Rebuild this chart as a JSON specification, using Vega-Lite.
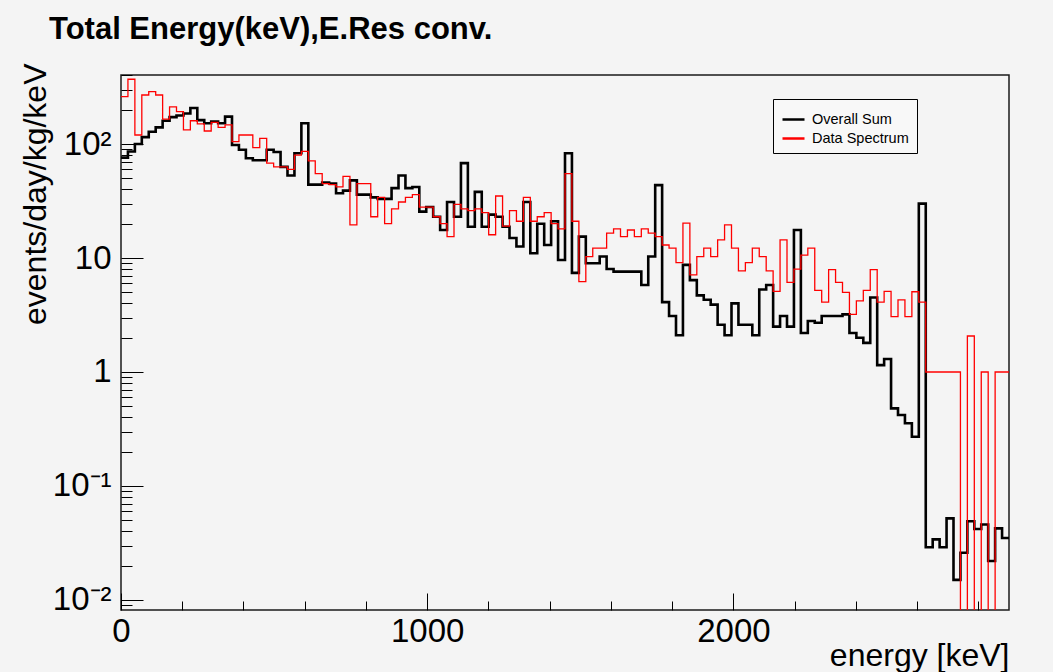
{
  "$schema": "https://vega.github.io/schema/vega-lite/v6.json",
  "width": 888,
  "height": 535,
  "autosize": {"type": "none"},
  "padding": {"left": 121, "top": 75, "right": 44, "bottom": 62},
  "background": "#f4f4f4",
  "config": {
    "font": "Liberation Sans",
    "view": {"stroke": "#1a1a1a", "strokeWidth": 1.5, "fill": "#f4f4f4"}
  },
  "title": {
    "text": "Total Energy(keV),E.Res conv.",
    "anchor": "start",
    "frame": "group",
    "dx": -72,
    "offset": -7,
    "baseline": "alphabetic",
    "fontSize": 31,
    "fontWeight": "bold",
    "font": "Liberation Sans",
    "color": "#000000"
  },
  "data": {
    "values": [
      {"e": 0, "s": 76, "d": 260},
      {"e": 22.66, "s": 86, "d": 370},
      {"e": 45.31, "s": 100, "d": 120},
      {"e": 67.97, "s": 115, "d": 269},
      {"e": 90.63, "s": 128, "d": 288},
      {"e": 113.28, "s": 140, "d": 269},
      {"e": 135.94, "s": 160, "d": 165},
      {"e": 158.59, "s": 172, "d": 212},
      {"e": 181.25, "s": 178, "d": 192},
      {"e": 203.91, "s": 185, "d": 133},
      {"e": 226.56, "s": 207, "d": 160},
      {"e": 249.22, "s": 162, "d": 150},
      {"e": 271.88, "s": 152, "d": 130},
      {"e": 294.53, "s": 157, "d": 155},
      {"e": 317.19, "s": 152, "d": 140},
      {"e": 339.84, "s": 174, "d": 147},
      {"e": 362.5, "s": 98, "d": 105},
      {"e": 385.16, "s": 89, "d": 120},
      {"e": 407.81, "s": 75, "d": 120},
      {"e": 430.47, "s": 72, "d": 93},
      {"e": 453.13, "s": 72, "d": 112},
      {"e": 475.78, "s": 89, "d": 68},
      {"e": 498.44, "s": 85, "d": 63},
      {"e": 521.09, "s": 63, "d": 63},
      {"e": 543.75, "s": 53, "d": 60},
      {"e": 566.41, "s": 83, "d": 80},
      {"e": 589.06, "s": 152, "d": 86},
      {"e": 611.72, "s": 44, "d": 71},
      {"e": 634.38, "s": 44, "d": 55},
      {"e": 657.03, "s": 46, "d": 45},
      {"e": 679.69, "s": 45, "d": 44},
      {"e": 702.34, "s": 37, "d": 42},
      {"e": 725, "s": 39, "d": 52},
      {"e": 747.66, "s": 48, "d": 19.5},
      {"e": 770.31, "s": 36, "d": 45},
      {"e": 792.97, "s": 36, "d": 45},
      {"e": 815.63, "s": 34, "d": 23},
      {"e": 838.28, "s": 33, "d": 34},
      {"e": 860.94, "s": 33, "d": 20},
      {"e": 883.59, "s": 41, "d": 27},
      {"e": 906.25, "s": 53, "d": 31},
      {"e": 928.91, "s": 41, "d": 34},
      {"e": 951.56, "s": 42, "d": 36},
      {"e": 974.22, "s": 25.5, "d": 28},
      {"e": 996.88, "s": 28, "d": 28},
      {"e": 1019.53, "s": 23, "d": 23},
      {"e": 1042.19, "s": 17.6, "d": 20},
      {"e": 1064.84, "s": 31, "d": 15.4},
      {"e": 1087.5, "s": 23, "d": 29.6},
      {"e": 1110.16, "s": 68, "d": 27},
      {"e": 1132.81, "s": 18.8, "d": 26},
      {"e": 1155.47, "s": 38, "d": 27},
      {"e": 1178.13, "s": 18.8, "d": 25},
      {"e": 1200.78, "s": 24, "d": 16},
      {"e": 1223.44, "s": 23, "d": 35},
      {"e": 1246.09, "s": 18.8, "d": 19},
      {"e": 1268.75, "s": 15, "d": 26},
      {"e": 1291.41, "s": 12.6, "d": 21},
      {"e": 1314.06, "s": 31, "d": 34},
      {"e": 1336.72, "s": 11, "d": 21},
      {"e": 1359.38, "s": 20, "d": 23},
      {"e": 1382.03, "s": 13, "d": 25},
      {"e": 1404.69, "s": 21, "d": 20},
      {"e": 1427.34, "s": 9.6, "d": 18},
      {"e": 1450, "s": 83, "d": 55},
      {"e": 1472.66, "s": 7.4, "d": 21},
      {"e": 1495.31, "s": 15.4, "d": 6.2},
      {"e": 1517.97, "s": 9, "d": 10.3},
      {"e": 1540.63, "s": 9, "d": 12.2},
      {"e": 1563.28, "s": 10.3, "d": 12.2},
      {"e": 1585.94, "s": 8, "d": 16.5},
      {"e": 1608.59, "s": 7.6, "d": 18},
      {"e": 1631.25, "s": 7.6, "d": 15.4},
      {"e": 1653.91, "s": 7.6, "d": 17.6},
      {"e": 1676.56, "s": 7.6, "d": 15.4},
      {"e": 1699.22, "s": 5.8, "d": 18},
      {"e": 1721.88, "s": 10.3, "d": 16.5},
      {"e": 1744.53, "s": 43.6, "d": 15.4},
      {"e": 1767.19, "s": 4.1, "d": 13},
      {"e": 1789.84, "s": 3.1, "d": 12.2},
      {"e": 1812.5, "s": 2.1, "d": 9.1},
      {"e": 1835.16, "s": 8.7, "d": 20.2},
      {"e": 1857.81, "s": 6.4, "d": 7.1},
      {"e": 1880.47, "s": 4.7, "d": 10.3},
      {"e": 1903.13, "s": 4.3, "d": 12.2},
      {"e": 1925.78, "s": 3.9, "d": 10.3},
      {"e": 1948.44, "s": 2.6, "d": 14.4},
      {"e": 1971.09, "s": 2.1, "d": 19.5},
      {"e": 1993.75, "s": 4.0, "d": 12.2},
      {"e": 2016.41, "s": 2.6, "d": 7.7},
      {"e": 2039.06, "s": 2.6, "d": 9.1},
      {"e": 2061.72, "s": 2.1, "d": 12.2},
      {"e": 2084.38, "s": 5.3, "d": 10.3},
      {"e": 2107.03, "s": 5.8, "d": 7.7},
      {"e": 2129.69, "s": 2.5, "d": 5.1},
      {"e": 2152.34, "s": 3.1, "d": 14.4},
      {"e": 2175, "s": 2.5, "d": 6.1},
      {"e": 2197.66, "s": 17.6, "d": 8.0},
      {"e": 2220.31, "s": 2.2, "d": 10.6},
      {"e": 2242.97, "s": 2.8, "d": 12.2},
      {"e": 2265.63, "s": 2.7, "d": 5.2},
      {"e": 2288.28, "s": 3.1, "d": 4.1},
      {"e": 2310.94, "s": 3.1, "d": 7.9},
      {"e": 2333.59, "s": 3.1, "d": 6.1},
      {"e": 2356.25, "s": 3.2, "d": 5.0},
      {"e": 2378.91, "s": 2.2, "d": 3.2},
      {"e": 2401.56, "s": 2.0, "d": 4.2},
      {"e": 2424.22, "s": 1.8, "d": 5.2},
      {"e": 2446.88, "s": 4.5, "d": 7.9},
      {"e": 2469.53, "s": 1.15, "d": 4.1},
      {"e": 2492.19, "s": 1.3, "d": 5.1},
      {"e": 2514.84, "s": 0.48, "d": 3.06},
      {"e": 2537.5, "s": 0.42, "d": 4.3},
      {"e": 2560.16, "s": 0.355, "d": 3.06},
      {"e": 2582.81, "s": 0.27, "d": 5.06},
      {"e": 2605.47, "s": 30, "d": 4.1},
      {"e": 2628.13, "s": 0.029, "d": 1},
      {"e": 2650.78, "s": 0.034, "d": 1},
      {"e": 2673.44, "s": 0.029, "d": 1},
      {"e": 2696.09, "s": 0.052, "d": 1},
      {"e": 2718.75, "s": 0.015, "d": 1},
      {"e": 2741.41, "s": 0.026, "d": 0.0001},
      {"e": 2764.06, "s": 0.049, "d": 2.07},
      {"e": 2786.72, "s": 0.042, "d": 0.0001},
      {"e": 2809.38, "s": 0.046, "d": 1},
      {"e": 2832.03, "s": 0.022, "d": 0.0001},
      {"e": 2854.69, "s": 0.0425, "d": 1},
      {"e": 2877.34, "s": 0.035, "d": 1},
      {"e": 2900, "s": 0.035, "d": 1}
    ]
  },
  "resolve": {"axis": {"x": "independent", "y": "independent"}},
  "layer": [
    {
      "mark": {"type": "line", "interpolate": "step-after", "strokeWidth": 2.6, "clip": true},
      "encoding": {
        "x": {
          "field": "e", "type": "quantitative",
          "scale": {"domain": [0, 2900], "nice": false, "zero": false},
          "axis": {
            "orient": "bottom", "values": [0, 1000, 2000], "format": "d",
            "tickSize": -17, "tickColor": "#000000", "tickWidth": 1,
            "labelFontSize": 33, "labelPadding": 22, "labelFlush": false, "labelColor": "#000000",
            "domain": false, "grid": false,
            "title": "energy [keV]", "titleFontSize": 32, "titleFontWeight": "normal", "titleColor": "#000000",
            "titleAnchor": "end", "titleAlign": "right", "titleBaseline": "alphabetic",
            "titleX": 888, "titleY": 55
          }
        },
        "y": {
          "field": "s", "type": "quantitative",
          "scale": {"type": "log", "domain": [0.00817, 403], "nice": false},
          "axis": {
            "orient": "left", "values": [0.01, 0.1, 1, 10, 100],
            "labelExpr": "datum.value >= 99 ? '10²' : datum.value >= 9 ? '10' : datum.value >= 0.9 ? '1' : datum.value >= 0.09 ? '10⁻¹' : '10⁻²'",
            "tickSize": -22, "tickColor": "#000000", "tickWidth": 1,
            "labelFontSize": 33, "labelPadding": 32, "labelColor": "#000000",
            "domain": false, "grid": false,
            "title": "events/day/kg/keV", "titleFontSize": 32, "titleFontWeight": "normal", "titleColor": "#000000",
            "titleAngle": -90, "titleAlign": "right", "titleBaseline": "middle",
            "titleX": -86, "titleY": -12
          }
        },
        "color": {
          "datum": "Overall Sum", "type": "nominal",
          "scale": {"domain": ["Overall Sum", "Data Spectrum"], "range": ["#000000", "#ff0000"]},
          "legend": {
            "orient": "none", "legendX": 652, "legendY": 24, "title": null,
            "strokeColor": "#000000", "fillColor": "#f8f8f8", "padding": 8,
            "symbolType": "stroke", "symbolSize": 484, "symbolStrokeWidth": 2.5,
            "labelFontSize": 14.5, "labelColor": "#000000", "labelFont": "Liberation Sans",
            "rowPadding": -6, "labelOffset": 6
          }
        }
      }
    },
    {
      "mark": {"type": "line", "interpolate": "step-after", "strokeWidth": 1.3, "clip": true},
      "encoding": {
        "x": {
          "field": "e", "type": "quantitative",
          "axis": {
            "orient": "bottom",
            "values": [200, 400, 600, 800, 1200, 1400, 1600, 1800, 2200, 2400, 2600, 2800],
            "tickSize": -9, "tickColor": "#000000", "tickWidth": 1,
            "labels": false, "domain": false, "grid": false, "title": null
          }
        },
        "y": {
          "field": "d", "type": "quantitative",
          "axis": {
            "orient": "left",
            "values": [0.009, 0.02, 0.03, 0.04, 0.05, 0.06, 0.07, 0.08, 0.09, 0.2, 0.3, 0.4, 0.5, 0.6, 0.7, 0.8, 0.9, 2, 3, 4, 5, 6, 7, 8, 9, 20, 30, 40, 50, 60, 70, 80, 90, 200, 300, 400],
            "tickSize": -11, "tickColor": "#000000", "tickWidth": 1,
            "labels": false, "domain": false, "grid": false, "title": null
          }
        },
        "color": {"datum": "Data Spectrum", "type": "nominal"}
      }
    }
  ]
}
